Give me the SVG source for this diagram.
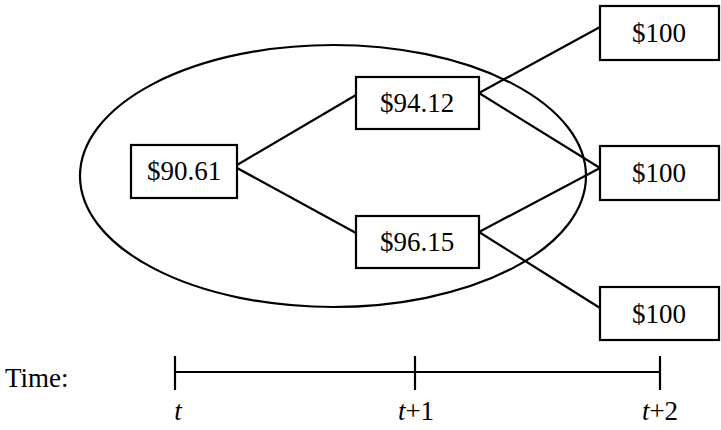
<svg xmlns="http://www.w3.org/2000/svg" width="721" height="430" viewBox="0 0 721 430" font-family="'Times New Roman', 'Liberation Serif', 'DejaVu Serif', serif" font-size="27">
<style>
.box{fill:#fff;stroke:#000;stroke-width:2.2}
.ln{stroke:#000;stroke-width:2.2;fill:none}
.c{text-anchor:middle}
.i{font-style:italic}
</style>
<rect width="721" height="430" fill="#fff"/>
<g id="ellipse"><ellipse cx="333" cy="176" rx="253" ry="131" class="ln"/></g>
<g id="connectors">
<line x1="237" y1="165" x2="356" y2="95" class="ln"/>
<line x1="237" y1="168" x2="356" y2="233" class="ln"/>
<line x1="479" y1="93" x2="600" y2="27" class="ln"/>
<line x1="479" y1="93" x2="600" y2="168" class="ln"/>
<line x1="479" y1="232" x2="600" y2="168" class="ln"/>
<line x1="479" y1="232" x2="600" y2="308" class="ln"/>
</g>
<g id="n0"><rect x="131" y="145" width="106" height="53" class="box"/><text x="184" y="180" class="c">$90.61</text></g>
<g id="n1"><rect x="356" y="77" width="123" height="52" class="box"/><text x="417" y="112" class="c">$94.12</text></g>
<g id="n2"><rect x="356" y="216" width="123" height="52" class="box"/><text x="417" y="251" class="c">$96.15</text></g>
<g id="n3"><rect x="600" y="6" width="119" height="54" class="box"/><text x="659" y="42" class="c">$100</text></g>
<g id="n4"><rect x="600" y="146" width="119" height="54" class="box"/><text x="659" y="182" class="c">$100</text></g>
<g id="n5"><rect x="600" y="287" width="119" height="53" class="box"/><text x="659" y="323" class="c">$100</text></g>
<g id="timeline">
<text x="5" y="387">Time:</text>
<line x1="175" y1="372" x2="660" y2="372" class="ln"/>
<line x1="175" y1="356" x2="175" y2="390" class="ln"/>
<line x1="415" y1="356" x2="415" y2="390" class="ln"/>
<line x1="660" y1="356" x2="660" y2="390" class="ln"/>
<text x="178" y="420" class="c i">t</text>
<text x="416" y="420" class="c"><tspan class="i">t</tspan>+1</text>
<text x="660" y="420" class="c"><tspan class="i">t</tspan>+2</text>
</g>
</svg>
